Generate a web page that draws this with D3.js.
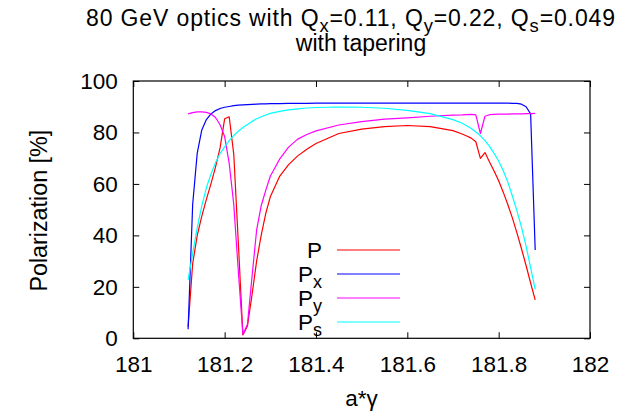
<!DOCTYPE html>
<html>
<head>
<meta charset="utf-8">
<script src="https://d3js.org/d3.v7.min.js"></script>
<style>
  html, body { margin: 0; padding: 0; background: #fff; }
  svg { display: block; font-family: "Liberation Sans", Arial, sans-serif; }
</style>
</head>
<body>
<svg id="chart" width="620" height="413"></svg>
<script>
// spin-tune scan points (a*gamma)
const aGamma = [181.12,181.13,181.14,181.15,181.16,181.17,181.18,181.19,181.20,181.21,
  181.22,181.23,181.24,181.25,181.26,181.27,181.28,181.29,181.30,181.32,181.34,181.36,
  181.38,181.40,181.45,181.50,181.55,181.60,181.65,181.70,181.72,181.73,181.74,181.75,
  181.76,181.77,181.78,181.79,181.80,181.81,181.82,181.83,181.84,181.85,181.86,181.87,181.88];

// polarization values [%]
const polP  = [4.5,29,40,47.5,54,60,66.5,74,85.3,86.1,
  71.5,37,1.3,4.8,17,30,40,48.5,55,62.8,67.5,70.9,
  73.5,75.7,79.6,81.3,82.3,82.7,82.3,80.7,79.4,78.6,77.8,76.4,
  69.9,72.2,68.5,65,61.2,56.8,52,46.8,41,34.8,28.3,21.5,14.9];
const polPx = [3.5,52,72,81,85,87.2,88.5,89.3,89.8,90.1,
  90.4,90.6,90.7,90.8,90.9,91.0,91.1,91.1,91.2,91.2,91.3,91.3,
  91.3,91.4,91.4,91.4,91.4,91.4,91.4,91.4,91.4,91.4,91.4,91.4,
  91.4,91.4,91.4,91.4,91.4,91.4,91.4,91.3,91.3,91.0,90.0,87.2,34.3];
const polPy = [87.2,87.7,88.0,88.0,87.8,87.2,85.8,83,78.4,68,
  52,26,1.5,5.5,24,42,51.5,57.5,63,69.5,74.3,77.4,
  79.2,80.6,82.9,84.2,85.2,85.7,86.3,86.7,86.8,86.9,87.0,86.8,
  79.6,86.3,86.9,87.0,87.1,87.1,87.1,87.2,87.2,87.2,87.3,87.3,87.4];
const polPs = [22.7,33,43,51.5,58.5,63.8,68.2,71.8,74.4,76.8,
  78.8,80.5,81.9,83.1,84.3,85.3,86.1,86.8,87.4,88.2,88.8,89.2,
  89.5,89.7,89.9,89.8,89.4,88.6,87.3,85.0,83.6,82.6,81.5,80.2,
  78.7,76.8,74.6,71.9,68.8,65.1,60.7,55.3,49.5,43.2,35.8,27.5,19.0];

const xTicks = [181, 181.2, 181.4, 181.6, 181.8, 182];
const yTicks = [0, 20, 40, 60, 80, 100];

const seriesNames = ["P", "Px", "Py", "Ps"];
const seriesColors = ["#ff0000", "#0000ff", "#ff00ff", "#00ffff"];

const svg = d3.select("#chart");
const W = 620, H = 413;
const plot = { left: 133.3, right: 590, top: 81, bottom: 338.3 };
const fs = 22.5;

svg.append("rect").attr("width", W).attr("height", H).attr("fill", "#fff");

const x = d3.scaleLinear().domain([181, 182]).range([plot.left, plot.right]);
const y = d3.scaleLinear().domain([0, 100]).range([plot.bottom, plot.top]);

// axes with inward ticks, mirrored on top and right
const axB = svg.append("g").attr("transform", `translate(0,${plot.bottom})`)
  .call(d3.axisBottom(x).tickValues(xTicks).tickSize(-6).tickPadding(17.3)
    .tickFormat(d => String(+d.toFixed(1))));
const axT = svg.append("g").attr("transform", `translate(0,${plot.top})`)
  .call(d3.axisTop(x).tickValues(xTicks).tickSize(-6).tickFormat(""));
const axL = svg.append("g").attr("transform", `translate(${plot.left},0)`)
  .call(d3.axisLeft(y).tickValues(yTicks).tickSize(-6).tickPadding(15.5));
const axR = svg.append("g").attr("transform", `translate(${plot.right},0)`)
  .call(d3.axisRight(y).tickValues(yTicks).tickSize(-6).tickFormat(""));

[axB, axT, axL, axR].forEach(g => {
  g.select(".domain").remove();
  g.selectAll(".tick line").attr("stroke", "#000").attr("stroke-width", 1);
  g.selectAll("text").attr("font-size", fs).attr("font-family", "Liberation Sans, Arial, sans-serif").attr("fill", "#000");
});

// frame
svg.append("rect")
  .attr("x", plot.left).attr("y", plot.top)
  .attr("width", plot.right - plot.left).attr("height", plot.bottom - plot.top)
  .attr("fill", "none").attr("stroke", "#000").attr("stroke-width", 1.2);

// curves
const series = [polP, polPx, polPy, polPs];
const line = d3.line().x((d, i) => x(aGamma[i])).y(d => y(d));
series.forEach((vals, k) => {
  svg.append("path").datum(vals)
    .attr("d", line)
    .attr("fill", "none")
    .attr("stroke", seriesColors[k])
    .attr("stroke-width", 1.2)
    .attr("stroke-linejoin", "round");
});

// legend
const legY = [250, 274, 298, 322];
seriesNames.forEach((name, k) => {
  const t = svg.append("text")
    .attr("x", 322).attr("y", legY[k] + 7.8)
    .attr("text-anchor", "end").attr("font-size", fs).attr("fill", "#000");
  t.append("tspan").text("P");
  if (name.length > 1) {
    t.append("tspan").attr("font-size", fs * 0.8).attr("dy", 6).text(name.slice(1));
  }
  svg.append("line")
    .attr("x1", 337).attr("x2", 400)
    .attr("y1", legY[k]).attr("y2", legY[k])
    .attr("stroke", seriesColors[k]).attr("stroke-width", 1.2);
});

// title, first line spread from x=86 to x=615
const tfs = 23;
const subShift = 5.5;
const t1 = svg.append("text").attr("x", 86).attr("y", 26)
  .attr("text-anchor", "start").attr("font-size", tfs).attr("fill", "#000");
const parts = [["80 GeV optics with Q", "x"], ["=0.11, Q", "y"], ["=0.22, Q", "s"], ["=0.049", null]];
let shifted = false;
let nChars = 0;
parts.forEach(([main, sub]) => {
  const ts = t1.append("tspan").text(main);
  nChars += main.length;
  if (shifted) { ts.attr("dy", -subShift); shifted = false; }
  if (sub) {
    t1.append("tspan").attr("font-size", tfs * 0.8).attr("dy", subShift).text(sub);
    nChars += sub.length;
    shifted = true;
  }
});
const w1 = t1.node().getBBox().width;
t1.attr("letter-spacing", Math.max(0, (615 - 86 - w1) / (nChars - 1)));

svg.append("text").attr("x", 361).attr("y", 50.5)
  .attr("text-anchor", "middle").attr("font-size", tfs).attr("fill", "#000")
  .text("with tapering");

// axis titles
svg.append("text").attr("x", 361.5).attr("y", 406)
  .attr("text-anchor", "middle").attr("font-size", fs).attr("fill", "#000")
  .text("a*\u03b3");
svg.append("text")
  .attr("transform", `translate(47,${(plot.top + plot.bottom) / 2 + 1}) rotate(-90)`)
  .attr("text-anchor", "middle").attr("font-size", 23.3).attr("fill", "#000")
  .text("Polarization [%]");
</script>
</body>
</html>
